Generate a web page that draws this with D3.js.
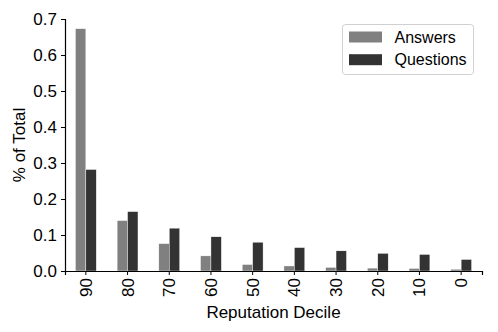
<!DOCTYPE html>
<html>
<head>
<meta charset="utf-8">
<script src="https://cdn.jsdelivr.net/npm/d3@7"></script>
<style>
  body { margin: 0; background: #fff; }
  text { font-family: "Liberation Sans", Arial, sans-serif; fill: #000; }
</style>
</head>
<body>
<script>
// deciles, highest first
var deciles = ["90", "80", "70", "60", "50", "40", "30", "20", "10", "0"];
var answers = [0.673, 0.140, 0.076, 0.042, 0.018, 0.014, 0.010, 0.008, 0.007, 0.005];
var questions = [0.282, 0.165, 0.119, 0.095, 0.080, 0.065, 0.056, 0.049, 0.046, 0.032];
var series_names = ["Answers", "Questions"];
var series_colors = ["#808080", "#333333"];
var y_ticks = [0.0, 0.1, 0.2, 0.3, 0.4, 0.5, 0.6, 0.7];

var width = 498, height = 332;
var plot_left = 65, plot_right = 482, plot_top = 19, plot_bottom = 271;

var svg = d3.select("body").append("svg")
    .attr("width", width)
    .attr("height", height);

var x = d3.scaleBand().domain(deciles).range([plot_left, plot_right]).padding(0);
var y = d3.scaleLinear().domain([0, 0.7]).range([plot_bottom, plot_top]);

var bw = x.bandwidth() * 0.25;

// bars
[answers, questions].forEach(function (vals, s) {
    svg.append("g").selectAll("rect")
        .data(vals)
        .enter()
        .append("rect")
        .attr("x", function (d, i) { return x(deciles[i]) + x.bandwidth() / 2 - bw + s * bw; })
        .attr("y", function (d) { return y(d); })
        .attr("width", bw)
        .attr("height", function (d) { return y(0) - y(d); })
        .attr("fill", series_colors[s])
        .attr("stroke", "#ffffff")
        .attr("stroke-width", 0.4);
});

// y axis
var yAxis = svg.append("g")
    .attr("transform", "translate(" + plot_left + ",0)")
    .call(d3.axisLeft(y).tickValues(y_ticks).tickFormat(d3.format(".1f")).tickSize(4).tickPadding(4));
yAxis.selectAll("text").style("font-size", "17px");

// x axis
var xAxis = svg.append("g")
    .attr("transform", "translate(0," + plot_bottom + ")")
    .call(d3.axisBottom(x).tickSize(4).tickPadding(4));
xAxis.selectAll("text")
    .style("font-size", "17px")
    .attr("text-anchor", "end")
    .attr("dy", "0.35em")
    .attr("transform", "rotate(-90)")
    .attr("x", -7)
    .attr("y", 0);

svg.selectAll(".domain").attr("stroke", "#000").attr("stroke-width", 1.2);
svg.selectAll(".tick line").attr("stroke", "#000");

// axis titles
svg.append("text")
    .attr("transform", "translate(25," + ((plot_top + plot_bottom) / 2) + ") rotate(-90)")
    .attr("text-anchor", "middle")
    .style("font-size", "17px")
    .text("% of Total");

svg.append("text")
    .attr("x", (plot_left + plot_right) / 2)
    .attr("y", 318)
    .attr("text-anchor", "middle")
    .style("font-size", "17px")
    .text("Reputation Decile");

// legend
var lg = svg.append("g").attr("transform", "translate(342.5,24.5)");
lg.append("rect")
    .attr("width", 131)
    .attr("height", 50)
    .attr("rx", 3)
    .attr("fill", "#fff")
    .attr("stroke", "#d0d0d0");
series_names.forEach(function (name, i) {
    lg.append("rect")
        .attr("x", 6.5)
        .attr("y", 7 + i * 22.7)
        .attr("width", 33)
        .attr("height", 11)
        .attr("fill", series_colors[i]);
    lg.append("text")
        .attr("x", 52)
        .attr("y", 18 + i * 22.7)
        .style("font-size", "16px")
        .text(name);
});
</script>
</body>
</html>
